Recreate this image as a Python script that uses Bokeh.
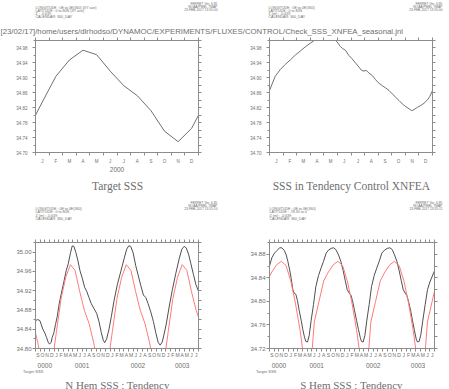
from bokeh.plotting import figure
from bokeh.layouts import column, row
from bokeh.models import (Range1d, LinearAxis, FixedTicker, PrintfTickFormatter,
                          Label, Legend, LegendItem)
from bokeh.embed import file_html
from bokeh.resources import INLINE

# ---------------- data ----------------
month_letters = ["J", "F", "M", "A", "M", "J", "J", "A", "S", "O", "N", "D"]
year_top_label = "2000"

# Target SSS: monthly climatology (mid-month), with the Jan 1 / Dec 31 edge values
target_t = [0.0, 0.5, 1.5, 2.5, 3.5, 4.5, 5.5, 6.5, 7.5, 8.5, 9.5, 10.5, 11.5, 12.0]
target_v = [34.800, 34.835, 34.904, 34.948, 34.974, 34.962, 34.918, 34.879,
            34.852, 34.812, 34.757, 34.729, 34.765, 34.800]

# SSS in Tendency Control XNFEA (one year, months since Jan 1)
tend_t = [0, 0.42, 0.79, 1.16, 1.53, 1.90, 2.27, 2.64, 3.01, 3.25, 3.5, 3.8, 4.1, 4.4, 4.7,
          4.98, 5.22, 5.40, 5.59, 5.84, 6.08, 6.33, 6.58, 6.78, 6.95, 7.12, 7.32, 7.57, 7.81,
          8.01, 8.30, 8.55, 8.80, 9.04, 9.29, 9.54, 9.78, 10.03, 10.28, 10.47, 10.65, 10.89,
          11.14, 11.38, 11.63, 11.80, 12.0]
tend_v = [34.866, 34.904, 34.922, 34.936, 34.948, 34.961, 34.972, 34.983, 34.993, 34.999,
          35.006, 35.011, 35.013, 35.011, 35.005, 34.996, 34.984, 34.978, 34.974, 34.960,
          34.951, 34.940, 34.929, 34.920, 34.918, 34.920, 34.913, 34.906, 34.895, 34.887,
          34.879, 34.873, 34.866, 34.857, 34.848, 34.839, 34.830, 34.823, 34.817, 34.812,
          34.815, 34.821, 34.826, 34.832, 34.841, 34.850, 34.866]

# Bottom panels: months since 1 Sep 0000
bottom_month_labels = ["S", "O", "N", "D",
                       "J", "F", "M", "A", "M", "J", "J", "A", "S", "O", "N", "D",
                       "J", "F", "M", "A", "M", "J", "J", "A", "S", "O", "N", "D",
                       "J", "F", "M", "A", "M", "J", "J"]
year_labels = ["0000", "0001", "0002", "0003"]
year_label_pos = [2.0, 10.0, 22.0, 31.5]

# N Hem: tendency SSS (black)
nh_t = [0.00, 0.50, 0.93, 1.22, 1.58, 2.01, 2.37, 2.73, 3.01, 3.37, 3.59, 3.95, 4.30, 4.66,
        5.09, 5.52, 6.10, 6.60, 7.03, 7.53, 7.89, 8.25, 8.68, 9.11, 9.54, 10.04, 10.55,
        10.98, 11.48, 11.98, 12.55, 13.13, 13.63, 14.13, 14.56, 14.85, 15.28, 15.78, 16.28,
        16.86, 17.58, 18.29, 19.01, 19.58, 20.01, 20.44, 20.95, 21.52, 22.02, 22.60, 23.17,
        23.67, 24.18, 24.75, 25.32, 25.82, 26.33, 26.76, 27.19, 27.62, 28.12, 28.69, 29.41,
        30.13, 30.85, 31.42, 31.92, 32.35, 32.86, 33.36, 33.93, 34.43, 35.00]
nh_v = [34.858, 34.860, 34.858, 34.850, 34.840, 34.832, 34.823, 34.813, 34.809, 34.813,
        34.823, 34.833, 34.850, 34.866, 34.893, 34.913, 34.939, 34.962, 34.976, 34.999,
        35.013, 35.012, 34.999, 34.982, 34.962, 34.946, 34.927, 34.919, 34.906, 34.893,
        34.883, 34.873, 34.856, 34.833, 34.817, 34.812, 34.820, 34.840, 34.866, 34.899,
        34.933, 34.959, 34.986, 35.006, 35.013, 35.012, 34.999, 34.972, 34.953, 34.931,
        34.911, 34.906, 34.893, 34.876, 34.856, 34.833, 34.813, 34.807, 34.813, 34.830,
        34.853, 34.886, 34.923, 34.956, 34.986, 35.006, 35.012, 35.009, 34.996, 34.976,
        34.953, 34.933, 34.919]
# Target SSS (red), mid-month positions, Aug 0000 .. Aug 0003
target_mid_t = [-0.5, 0.5, 1.5, 2.5, 3.5, 4.5, 5.5, 6.5, 7.5, 8.5, 9.5, 10.5, 11.5, 12.5,
                13.5, 14.5, 15.5, 16.5, 17.5, 18.5, 19.5, 20.5, 21.5, 22.5, 23.5, 24.5, 25.5,
                26.5, 27.5, 28.5, 29.5, 30.5, 31.5, 32.5, 33.5, 34.5, 35.5]
nh_target_v = [34.852, 34.812, 34.757, 34.729, 34.765,
               34.835, 34.904, 34.948, 34.974, 34.962, 34.918, 34.879, 34.852, 34.812, 34.757, 34.729, 34.765,
               34.835, 34.904, 34.948, 34.974, 34.962, 34.918, 34.879, 34.852, 34.812, 34.757, 34.729, 34.765,
               34.835, 34.904, 34.948, 34.974, 34.962, 34.918, 34.879, 34.852]

# S Hem: tendency SSS (black)
sh_t = [0.00, 0.50, 1.06, 1.56, 2.12, 2.62, 3.11, 3.54, 3.89, 4.24, 4.60, 4.95, 5.23, 5.59,
        5.94, 6.29, 6.72, 7.07, 7.43, 7.71, 8.06, 8.42, 8.84, 9.34, 9.83, 10.40, 10.96, 11.46,
        12.02, 12.52, 13.08, 13.58, 14.07, 14.64, 15.13, 15.63, 16.05, 16.48, 16.90, 17.26,
        17.61, 18.03, 18.46, 18.88, 19.24, 19.52, 19.87, 20.23, 20.65, 21.15, 21.64, 22.21,
        22.77, 23.27, 23.83, 24.40, 24.96, 25.53, 26.03, 26.52, 27.02, 27.51, 27.93, 28.36,
        28.78, 29.14, 29.49, 29.92, 30.34, 30.76, 31.12, 31.40, 31.75, 32.11, 32.53, 33.03,
        33.52, 34.02, 35.00]
sh_v = [34.860, 34.874, 34.882, 34.886, 34.891, 34.891, 34.887, 34.879, 34.868, 34.855,
        34.839, 34.820, 34.814, 34.812, 34.801, 34.785, 34.768, 34.752, 34.739, 34.732,
        34.731, 34.742, 34.768, 34.795, 34.825, 34.844, 34.857, 34.868, 34.882, 34.887,
        34.890, 34.891, 34.888, 34.879, 34.868, 34.852, 34.836, 34.820, 34.814, 34.811,
        34.801, 34.785, 34.768, 34.752, 34.739, 34.732, 34.731, 34.742, 34.768, 34.795,
        34.825, 34.844, 34.857, 34.868, 34.882, 34.887, 34.890, 34.891, 34.888, 34.879,
        34.868, 34.852, 34.836, 34.820, 34.814, 34.810, 34.800, 34.785, 34.767, 34.750,
        34.736, 34.731, 34.732, 34.744, 34.768, 34.795, 34.820, 34.833, 34.852]
sh_target_v = [34.835, 34.850, 34.862, 34.868, 34.861,
               34.835, 34.797, 34.750, 34.690, 34.660, 34.765, 34.800, 34.835, 34.850, 34.862, 34.868, 34.861,
               34.835, 34.797, 34.750, 34.690, 34.660, 34.765, 34.800, 34.835, 34.850, 34.862, 34.868, 34.861,
               34.835, 34.797, 34.750, 34.690, 34.660, 34.765, 34.800, 34.835]

# axis ticks
top_y_major = [34.70, 34.74, 34.78, 34.82, 34.86, 34.90, 34.94, 34.98]
top_y_minor = [34.72, 34.76, 34.80, 34.84, 34.88, 34.92, 34.96, 35.00]
nh_y_major = [34.80, 34.84, 34.88, 34.92, 34.96, 35.00]
nh_y_minor = [34.82, 34.86, 34.90, 34.94, 34.98, 35.02]
sh_y_major = [34.72, 34.76, 34.80, 34.84, 34.88]
sh_y_minor = [34.74, 34.78, 34.82, 34.86, 34.90]

path_title = "[23/02/17]/home/users/dlrhodso/DYNAMOC/EXPERIMENTS/FLUXES/CONTROL/Check_SSS_XNFEA_seasonal.jnl"
ferret_id = ["FERRET Ver. 6.85", "NOAA/PMEL TMAP"]
hdr_tl = ["LONGITUDE : 0E to 0E(360) (XY ave)", "LATITUDE : 0 to 80N (XY ave)",
          "Z : -0.639", "CALENDAR: 360_DAY"]
hdr_tr = ["LONGITUDE : 0E to 0E(360)", "LATITUDE : 0 to 80N",
          "Z (m) : -0.639", "CALENDAR: 360_DAY"]
hdr_bl = ["LONGITUDE : 0E to 0E(360)", "LATITUDE : 0 to 80N",
          "Z (m) : -0.639", "CALENDAR: 360_DAY"]
hdr_br = ["LONGITUDE : 0E to 0E(360)", "LATITUDE : -78.35 to 0",
          "Z (m) : -0.639", "CALENDAR: 360_DAY"]

# ---------------- styling ----------------
AX = "#8c8c8c"
TXT = "#6e6e6e"
LINE_TOP = "#707070"
BLACK = "#4f4f4f"
RED = "#ff7a7a"
SANS = "Liberation Sans"
SERIF = "Liberation Serif"
W = 449


def make_panel(w, h, bl, br, bt, bb, xr, yr):
    p = figure(width=w, height=h, min_border_left=bl, min_border_right=br,
               min_border_top=bt, min_border_bottom=bb, x_range=Range1d(*xr),
               y_range=Range1d(*yr), output_backend="svg", toolbar_location=None,
               x_axis_location=None, y_axis_location=None,
               background_fill_color="white", border_fill_color="white",
               outline_line_color=AX, outline_line_width=1)
    for g in list(p.grid):
        g.visible = False
    return p


def make_band(h):
    b = figure(width=W, height=h, min_border_left=0, min_border_right=0,
               min_border_top=0, min_border_bottom=0, x_range=Range1d(0, W),
               y_range=Range1d(h, 0), output_backend="svg", toolbar_location=None,
               x_axis_location=None, y_axis_location=None, outline_line_color=None,
               background_fill_color="white", border_fill_color="white")
    for g in list(b.grid):
        g.visible = False
    return b


def axis_style(ax):
    ax.axis_line_color = AX
    ax.major_tick_line_color = AX
    ax.minor_tick_line_color = AX
    ax.major_tick_in = 0
    ax.minor_tick_in = 0
    ax.major_label_text_color = TXT
    ax.major_label_text_font = SANS


def add_y_axes(p, majors, minors, fs, standoff):
    left = LinearAxis(ticker=FixedTicker(ticks=majors, minor_ticks=minors),
                      formatter=PrintfTickFormatter(format="%.2f"))
    axis_style(left)
    left.major_label_text_font_size = fs
    left.major_label_standoff = standoff
    left.major_tick_out = 3
    left.minor_tick_out = 2
    p.add_layout(left, "left")
    right = LinearAxis(ticker=FixedTicker(ticks=[], minor_ticks=majors + minors))
    axis_style(right)
    right.major_label_standoff = 0
    right.major_tick_out = 0
    right.minor_tick_out = 3
    p.add_layout(right, "right")


def add_x_axes(p, centers, letters, bounds, fs, standoff):
    bottom = LinearAxis(ticker=FixedTicker(ticks=centers, minor_ticks=bounds),
                        major_label_overrides=dict(zip(centers, letters)))
    axis_style(bottom)
    bottom.major_tick_out = 0
    bottom.minor_tick_out = 3
    bottom.major_label_text_font_size = fs
    bottom.major_label_standoff = standoff
    p.add_layout(bottom, "below")
    top = LinearAxis(ticker=FixedTicker(ticks=[], minor_ticks=bounds))
    axis_style(top)
    top.major_tick_out = 0
    top.minor_tick_out = 3
    top.major_label_standoff = 0
    p.add_layout(top, "above")
    return bottom


def add_year_axis(p):
    ya = LinearAxis(ticker=FixedTicker(ticks=year_label_pos),
                    major_label_overrides=dict(zip(year_label_pos, year_labels)))
    axis_style(ya)
    ya.axis_line_color = None
    ya.major_tick_line_color = None
    ya.minor_tick_line_color = None
    ya.major_tick_out = 0
    ya.minor_tick_out = 0
    ya.major_label_text_font_size = "6.5px"
    ya.major_label_standoff = 2
    p.add_layout(ya, "below")


def txt(b, top, X, Y, text, size, align="left", font=SANS, color=TXT):
    b.add_layout(Label(x=X, y=Y - top, x_units="data", y_units="data",
                       text=text, text_font_size=size, text_align=align,
                       text_baseline="alphabetic", text_color=color, text_font=font))


def header(b, top, xl, xr, y_left, y_right, lines, stamp):
    for yy, line in zip(y_left, lines):
        txt(b, top, xl, yy, line, "3.6px")
    for yy, line in zip(y_right, ferret_id + [stamp]):
        txt(b, top, xr, yy, line, "3.3px", align="right")


top_centers = [i + 0.5 for i in range(12)]
top_bounds = list(range(13))
bot_centers = [i + 0.5 for i in range(35)]
bot_bounds = list(range(36))

# ---------------- band A: run headers and journal path (y 0-36) ----------------
bandA = make_band(36)
txt(bandA, 0, 0, 31, path_title, "7.8px")
header(bandA, 0, 35, 217, [7, 10.3, 13.6, 16.9], [3.2, 6.2, 9.2], hdr_tl, "23-FEB-2017 13:55:00")
header(bandA, 0, 268, 442, [7, 10.3, 13.6, 16.9], [3.2, 6.2, 9.2], hdr_tr, "23-FEB-2017 13:55:00")

# ---------------- top-left: Target SSS (frame 35-198 x 40-152) ----------------
p1 = make_panel(224, 141, 35, 26, 4, 25, (0, 12), (34.70, 35.00))
add_y_axes(p1, top_y_major, top_y_minor, "4.5px", 5)
b1 = add_x_axes(p1, top_centers, month_letters, top_bounds, "4.5px", 3)
b1.axis_label = year_top_label
b1.axis_label_text_font_size = "6.5px"
b1.axis_label_text_font_style = "normal"
b1.axis_label_text_color = TXT
b1.axis_label_text_font = SANS
b1.axis_label_standoff = 0
p1.line(target_t, target_v, line_color=LINE_TOP, line_width=1)

# ---------------- top-right: SSS in Tendency Control XNFEA (frame 269-432) ----------------
p2 = make_panel(225, 141, 45, 17, 4, 25, (0, 12), (34.70, 35.00))
add_y_axes(p2, top_y_major, top_y_minor, "4.5px", 5)
add_x_axes(p2, top_centers, month_letters, top_bounds, "4.5px", 3)
p2.line(tend_t, tend_v, line_color=LINE_TOP, line_width=1)

# ---------------- band B: top titles and bottom headers (y 177-238) ----------------
TB = 177
bandB = make_band(61)
txt(bandB, TB, 117, 185, "Target SSS", "11.5px", align="center", font=SERIF)
txt(bandB, TB, 351, 185, "SSS in Tendency Control XNFEA", "11.5px", align="center", font=SERIF)
header(bandB, TB, 35, 217, [208.5, 211.8, 215.1, 218.4], [202.8, 205.8, 208.8], hdr_bl, "23-FEB-2017 13:55:10")
header(bandB, TB, 269, 442, [208.5, 211.8, 215.1, 218.4], [202.8, 205.8, 208.8], hdr_br, "23-FEB-2017 13:55:11")

# ---------------- bottom-left: N Hem (frame 35-198 x 242-353) ----------------
p3 = make_panel(224, 132, 35, 26, 4, 17, (0, 35), (34.80, 35.02))
add_y_axes(p3, nh_y_major, nh_y_minor, "6px", 1)
add_x_axes(p3, bot_centers, bottom_month_labels, bot_bounds, "5px", 0)
add_year_axis(p3)
p3.line(nh_t, nh_v, line_color=BLACK, line_width=1)
p3.line(target_mid_t, nh_target_v, line_color=RED, line_width=1)

# ---------------- bottom-right: S Hem (frame 269-434) ----------------
p4 = make_panel(225, 132, 45, 15, 4, 17, (0, 35), (34.72, 34.90))
add_y_axes(p4, sh_y_major, sh_y_minor, "6px", 1)
add_x_axes(p4, bot_centers, bottom_month_labels, bot_bounds, "5px", 0)
add_year_axis(p4)
p4.line(sh_t, sh_v, line_color=BLACK, line_width=1)
p4.line(target_mid_t, sh_target_v, line_color=RED, line_width=1)

# ---------------- band C: bottom titles and legends (y 370-389) ----------------
TC = 370
bandC = make_band(19)
txt(bandC, TC, 117, 384, "N Hem SSS : Tendency", "11px", align="center", font=SERIF)
txt(bandC, TC, 351, 384, "S Hem SSS : Tendency", "11px", align="center", font=SERIF)
key = bandC.line(x=[], y=[], line_color=RED, line_width=1)
for loc in [(0, 15), (233, 15)]:
    bandC.add_layout(Legend(items=[LegendItem(label="Target SSS", renderers=[key])],
                            location=loc, glyph_width=20, glyph_height=4, label_height=4,
                            label_width=10, label_standoff=3, label_text_font_size="4px",
                            label_text_color=TXT, label_text_font=SANS, padding=0, margin=0,
                            spacing=0, border_line_color=None, background_fill_alpha=0))

layout = column(bandA, row(p1, p2), bandB, row(p3, p4), bandC)
open("out.html", "w").write(file_html(layout, INLINE))
